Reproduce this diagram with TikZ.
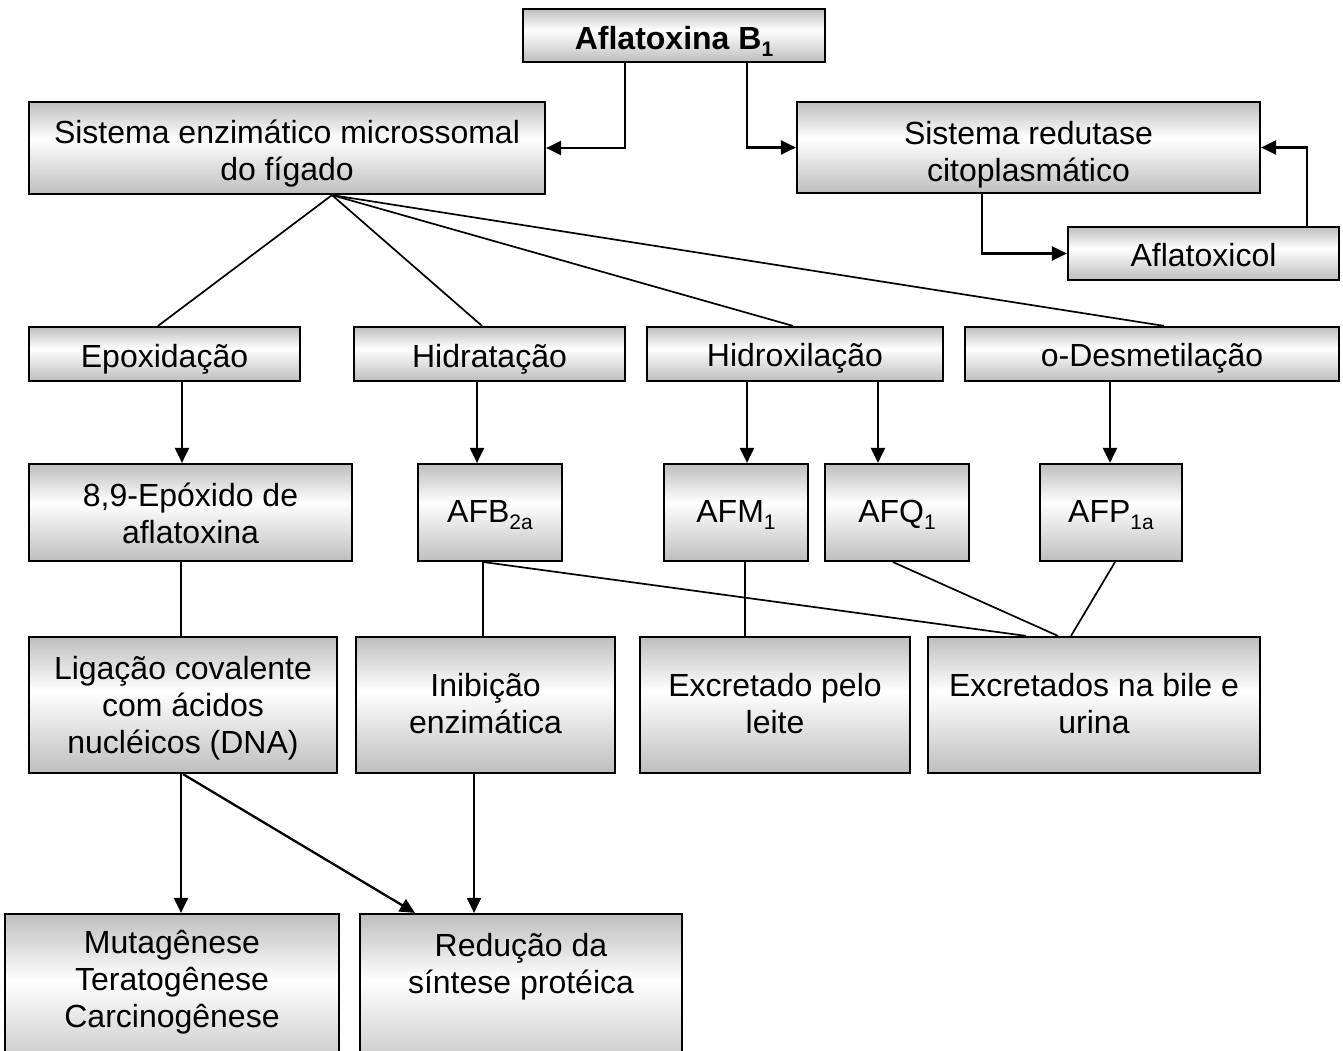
\documentclass[tikz,border=0pt]{standalone}
\usepackage{fontspec}
\setmainfont{Liberation Sans}
\usetikzlibrary{arrows.meta}
\definecolor{boxgray}{RGB}{190,190,190}
\pgfdeclareverticalshading{boxsh}{100bp}{color(0bp)=(boxgray); color(25bp)=(boxgray); color(55bp)=(white); color(75bp)=(boxgray); color(100bp)=(boxgray)}
\newcommand\sbs[1]{\raisebox{-0.2em}{\fontsize{21}{21}\selectfont #1}}
\newcommand\bl[2][5pt]{\raisebox{-#1}[\height][\depth]{\begin{tabular}{@{}c@{}}#2\end{tabular}}}
\begin{document}
\begin{tikzpicture}[x=1pt,y=-1pt,
  box/.style={draw=black, line width=2.2pt, shading=boxsh, inner sep=0pt, font=\fontsize{32}{37}\selectfont},
  txt/.style={inner sep=0pt, align=center, font=\fontsize{32}{37}\selectfont},
  arr/.style={line width=2.3pt, -{Triangle[length=15pt,width=14pt]}},
  ln/.style={line width=1.7pt}]
\path[use as bounding box] (0,0) rectangle (1343,1051);
\clip (0,0) rectangle (1343,1051);
\fill[white] (0,0) rectangle (1343,1051);

% x positions of connector ends
\foreach \x in {158,181,182,183,332,415,474,477,482,483,484,625,745,747,793,878,893,982,1026,1058,1071,1110,1115,1164,1307}
  \coordinate (c\x) at (\x,0);

% row 1
\node[box, minimum width=302, minimum height=53] (A) at (674,35.5) {\bl[7pt]{\textbf{Aflatoxina B\sbs{1}}}};
\node[box, minimum width=516, minimum height=92] (S) at (287,148) {\bl[7pt]{Sistema enzimático microssomal\\do fígado}};
\node[box, minimum width=463, minimum height=91] (R) at (1028.5,147.5) {\bl[8pt]{Sistema redutase\\citoplasmático}};
\node[box, minimum width=271, minimum height=53] (X) at (1203.5,253.5) {\bl[6pt]{Aflatoxicol}};

% row 2
\node[box, minimum width=271, minimum height=54] (E) at (164.5,354) {\bl[6pt]{Epoxidação}};
\node[box, minimum width=271, minimum height=54] (H) at (489.5,354) {\bl[6pt]{Hidratação}};
\node[box, minimum width=296, minimum height=54] (HX) at (795,354) {\bl[5pt]{Hidroxilação}};
\node[box, minimum width=374, minimum height=54] (D) at (1152,354) {\bl[5pt]{o-Desmetilação}};

% row 3
\node[box, minimum width=323, minimum height=97] (EP) at (190.5,512.5) {\bl[5pt]{8,9-Epóxido de\\aflatoxina}};
\node[box, minimum width=144, minimum height=97] (B2) at (490,512.5) {\bl[3pt]{AFB\sbs{2a}}};
\node[box, minimum width=144, minimum height=97] (M1) at (736,512.5) {\bl[3pt]{AFM\sbs{1}}};
\node[box, minimum width=144, minimum height=97] (Q1) at (897,512.5) {\bl[3pt]{AFQ\sbs{1}}};
\node[box, minimum width=142, minimum height=97] (P1) at (1111,512.5) {\bl[3pt]{AFP\sbs{1a}}};

% row 4
\node[box, minimum width=308, minimum height=136] (L) at (183,705) {\bl[4pt]{Ligação covalente\\com ácidos\\nucléicos (DNA)}};
\node[box, minimum width=259, minimum height=136] (I) at (485.5,705) {\bl[3pt]{Inibição\\enzimática}};
\node[box, minimum width=270, minimum height=136] (E1) at (775,705) {\bl[3pt]{Excretado pelo\\leite}};
\node[box, minimum width=332, minimum height=136] (E2) at (1094,705) {\bl[3pt]{Excretados na bile e\\urina}};

% row 5
\node[box, minimum width=334, minimum height=166] (MU) at (172,997) {};
\node[box, minimum width=322, minimum height=166] (RE) at (521,997) {};
\node[txt] (MUt) at (172,982) {Mutagênese\\Teratogênese\\Carcinogênese};
\node[txt] (REt) at (521,967) {Redução da\\síntese protéica};

% connectors top
\draw[arr] (A.south -| c625) |- (S.east);
\draw[arr] (A.south -| c747) |- (R.west);
\draw[arr] (R.south -| c982) |- (X.west);
\draw[arr] (X.north -| c1307) |- (R.east);

% fan
\draw[ln] (S.south -| c332) -- (E.north -| c158);
\draw[ln] (S.south -| c332) -- (H.north -| c482);
\draw[ln] (S.south -| c332) -- (HX.north -| c793);
\draw[ln] (S.south -| c332) -- (D.north -| c1164);

% row 2 -> row 3
\draw[arr] (E.south -| c182) -- (EP.north -| c182);
\draw[arr] (H.south -| c477) -- (B2.north -| c477);
\draw[arr] (HX.south -| c747) -- (M1.north -| c747);
\draw[arr] (HX.south -| c878) -- (Q1.north -| c878);
\draw[arr] (D.south -| c1110) -- (P1.north -| c1110);

% row 3 -> row 4
\draw[ln] (EP.south -| c181) -- (L.north -| c181);
\draw[ln] (B2.south -| c483) -- (I.north -| c483);
\draw[ln] (M1.south -| c745) -- (E1.north -| c745);
\draw[ln] (B2.south -| c484) -- (E2.north -| c1026);
\draw[ln] (Q1.south -| c893) -- (E2.north -| c1058);
\draw[ln] (P1.south -| c1115) -- (E2.north -| c1071);

% row 4 -> row 5
\draw[arr] (L.south -| c181) -- (MU.north -| c181);
\draw[arr] (L.south -| c183) -- (RE.north -| c415);
\draw[arr] (I.south -| c474) -- (RE.north -| c474);
\end{tikzpicture}
\end{document}
